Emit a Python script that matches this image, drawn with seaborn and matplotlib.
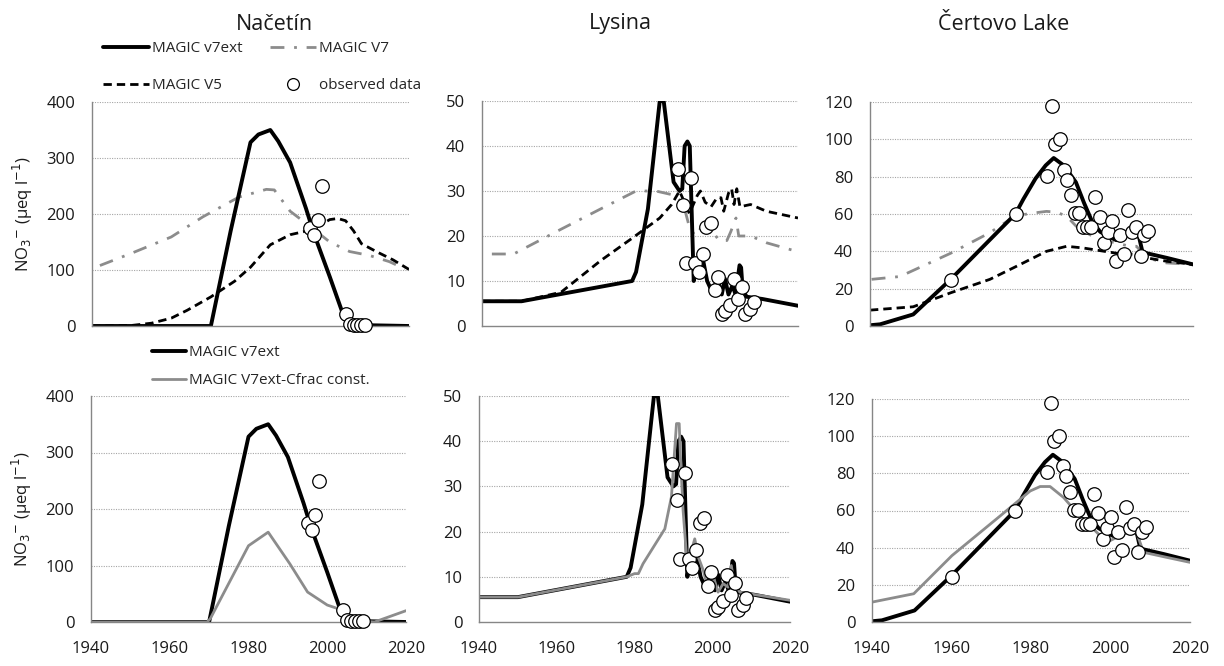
import matplotlib
matplotlib.use("Agg")
import matplotlib.pyplot as plt
from matplotlib.lines import Line2D
import seaborn as sns

# ---- Načetín ----
nac_yr_v7ext = [1940, 1970, 1975, 1980, 1982, 1985, 1987, 1990, 1994, 1996, 2000, 2003, 2005, 2020]
nac_v7ext = [0, 0, 170, 328, 342, 350, 330, 292, 210, 165, 88, 28, 2, 0]
nac_yr_v7 = [1942, 1950, 1960, 1968, 1977, 1984, 1986, 1990, 1995, 2000, 2005, 2010, 2015, 2019]
nac_v7 = [108, 130, 159, 195, 230, 244, 243, 205, 178, 150, 133, 126, 115, 102]
nac_yr_v5 = [1940, 1950, 1955, 1960, 1964, 1970, 1976, 1980, 1985, 1990, 1995, 1998, 2000, 2002,
             2004, 2006, 2008, 2012, 2016, 2020]
nac_v5 = [0, 1, 5, 14, 28, 52, 80, 105, 145, 163, 171, 182, 190, 192, 188, 170, 147, 132, 118, 101]
nac_yr_cfrac = [1940, 1969.5, 1970.3, 1980, 1985, 1990.5, 1995, 2000, 2003, 2006, 2012, 2020]
nac_cfrac = [0, 0, 6, 135, 159, 103, 53, 30, 23, 3, 0, 20]
nac_yr_obs = [1995, 1996, 1997, 1998, 2004, 2005, 2006, 2007, 2008, 2009]
nac_obs = [175, 162, 190, 250, 22, 4, 2, 1, 1, 1]

# ---- Lysina ----
lys_yr_v7ext = [1940, 1950, 1978, 1979, 1982, 1985, 1986, 1988.5, 1990, 1990.7, 1991.3, 1992, 1992.6,
                1993.2, 1993.6, 1994.3, 1996, 1997, 1998.3, 1999.6, 2000.7, 2001.5, 2002.4, 2003.4,
                2004.2, 2005.2, 2005.6, 2006, 2007, 2011, 2020]
lys_v7ext = [5.5, 5.5, 10, 12, 26, 50, 50, 32, 30, 30.5, 40, 41, 40, 22, 10, 14.5, 14.5, 10, 7.5,
             10.5, 7, 10.5, 7, 9, 7, 13.5, 13, 8, 6.5, 6, 4.5]
lys_yr_v7 = [1942.5, 1948, 1960, 1970, 1979, 1984, 1989, 1991, 1992.5, 1994, 1996, 1998, 2000, 2002,
             2003, 2004.3, 2005, 2008, 2012, 2020]
lys_v7 = [16, 16, 21.5, 26, 30, 30, 29, 27, 22, 20, 22.5, 21.5, 19, 19, 21, 24, 20, 20, 18.5, 16.5]
lys_yr_v5 = [1940, 1950, 1960, 1970, 1978, 1985, 1988, 1990, 1991.5, 1992.5, 1994.5, 1995.3, 1996.5,
             1998, 1999.5, 2000.5, 2001.2, 2002.4, 2003.2, 2003.8, 2004.5, 2005.3, 2008, 2012, 2020]
lys_v5 = [5.5, 5.5, 7.5, 14.5, 19.5, 24, 27, 30, 27, 25, 29, 30, 27.5, 26.5, 28.5, 28.5, 25.5, 29.5,
          30.5, 27, 30.5, 26.5, 27, 25.5, 24]
lys_yr_cfrac = [1940, 1950, 1978, 1980, 1981, 1982.2, 1987.8, 1989.5, 1990.8, 1991.5, 1991.8, 1992.5,
                1993.4, 1994.2, 1995.5, 1996.4, 1997.7, 1999, 2000.3, 2001.5, 2002.8, 2004.1, 2004.9,
                2005.8, 2007.1, 2020]
lys_cfrac = [5.5, 5.5, 10, 10.7, 10.7, 12.9, 20.6, 27.7, 43.9, 43.9, 37, 24.7, 14.4, 14.4, 18.4, 14.4,
             11.4, 7, 10, 6.6, 8.5, 7.7, 12.5, 7.7, 6.6, 4.8]
lys_yr_obs = [1989.6, 1990.9, 1991.7, 1992.9, 1994, 1994.9, 1995.9, 1996.8, 1998, 1998.9, 1999.8,
              2000.8, 2001.6, 2002.7, 2003.7, 2004.7, 2005.8, 2006.7, 2007.8, 2008.8]
lys_obs = [35, 27, 14, 33, 14, 12, 16, 22, 23, 8, 11, 2.6, 3.3, 4.6, 10.5, 6, 8.7, 2.6, 3.8, 5.3]

# ---- Čertovo Lake ----
cer_yr_v7ext = [1940, 1942.5, 1950.7, 1960, 1976, 1978, 1981, 1983.5, 1985.5, 1988, 1991, 1993, 1995,
                1997, 1999.5, 2001, 2003.5, 2005.8, 2006.6, 2007.5, 2013.5, 2020]
cer_v7ext = [0.4, 0.9, 6.2, 25, 60, 68, 79, 86, 90, 86, 77, 66, 56, 50.5, 47.5, 46, 48.5, 51, 48,
             39.5, 36.5, 33]
cer_yr_v7 = [1940.4, 1947.4, 1960, 1969.7, 1976, 1980.4, 1983.7, 1986.2, 1988.7, 1991.1, 1993.6,
             1996.9, 2001, 2004.3, 2006, 2008.5, 2013.4, 2020]
cer_v7 = [25, 26.5, 39, 50, 59, 60.5, 61.4, 61, 58.8, 53.4, 49.8, 46.3, 44.5, 42.7, 42.7, 36.5, 33.8, 33]
cer_yr_v5 = [1940, 1950.7, 1960, 1969.7, 1976.3, 1983.7, 1988.7, 1992.8, 2001, 2006, 2008.5, 2013.4, 2020]
cer_v5 = [8.5, 10.3, 17.8, 25, 32, 40, 42.7, 41.8, 39, 38.3, 36.5, 34.7, 33]
cer_yr_cfrac = [1940, 1950.5, 1960.1, 1972.2, 1979.8, 1982.3, 1984.8, 1988.2, 1991.5, 1994.9, 1997.4,
                1999.9, 2002.4, 2005.7, 2006.6, 2008.3, 2014.1, 2020]
cer_cfrac = [10.7, 15.2, 35.7, 57, 70.5, 72.9, 72.9, 67, 58.9, 51.8, 46.4, 43.8, 46.4, 50, 48, 37.5,
             34.8, 32.1]
cer_yr_obs = [1960, 1976.1, 1983.9, 1985, 1985.9, 1987, 1988, 1988.9, 1989.9, 1990.7, 1991.8, 1992.8,
              1993.8, 1994.8, 1995.8, 1996.9, 1998, 1999, 2000, 2000.9, 2001.9, 2002.8, 2003.9, 2004.9,
              2006, 2007, 2007.9, 2008.9]
cer_obs = [24.4, 60, 80.5, 118, 97.4, 100, 83.7, 78.3, 70, 60.5, 60.5, 53, 53, 53, 69, 58.5, 44.5,
           50.5, 56.5, 35, 48.5, 38.5, 62, 50.5, 53, 37.5, 48.5, 51]

sites = ["Načetín", "Lysina", "Čertovo Lake"]
y_max = [400, 50, 120]
y_step = [100, 10, 20]

sns.set_theme(style="white")
plt.rcParams["font.family"] = ["Open Sans", "DejaVu Sans"]

GRAY = "#8c8c8c"
AXC = "#868686"
V7_LS = (0, (5, 3.5, 1, 3.5))
V5_LS = (0, (3, 1.8))

fig = plt.figure(figsize=(12.24, 6.66), dpi=100)
W, H = 1224.0, 666.0

def rect(x0, x1, y0, y1):
    return [x0 / W, 1 - y1 / H, (x1 - x0) / W, (y1 - y0) / H]

top_rects = [rect(92, 409, 102, 326), rect(482, 798, 101, 326), rect(870, 1193, 102, 326)]
bot_rects = [rect(91, 406, 396, 622), rect(479, 790, 396, 622), rect(872, 1190, 399, 622)]

top_data = [
    (nac_yr_v7ext, nac_v7ext, nac_yr_v7, nac_v7, nac_yr_v5, nac_v5, nac_yr_obs, nac_obs),
    (lys_yr_v7ext, lys_v7ext, lys_yr_v7, lys_v7, lys_yr_v5, lys_v5, lys_yr_obs, lys_obs),
    (cer_yr_v7ext, cer_v7ext, cer_yr_v7, cer_v7, cer_yr_v5, cer_v5, cer_yr_obs, cer_obs),
]
bot_data = [
    (nac_yr_v7ext, nac_v7ext, nac_yr_cfrac, nac_cfrac, nac_yr_obs, nac_obs),
    (lys_yr_v7ext, lys_v7ext, lys_yr_cfrac, lys_cfrac, lys_yr_obs, lys_obs),
    (cer_yr_v7ext, cer_v7ext, cer_yr_cfrac, cer_cfrac, cer_yr_obs, cer_obs),
]


def style_axes(ax, i, show_x):
    ax.set_xlim(1940, 2020)
    ax.set_ylim(0, y_max[i])
    ax.set_xticks(range(1940, 2021, 20))
    ax.set_yticks(range(0, y_max[i] + 1, y_step[i]))
    if not show_x:
        ax.set_xticklabels([])
    for s in ["top", "right"]:
        ax.spines[s].set_visible(False)
    for s in ["left", "bottom"]:
        ax.spines[s].set_color(AXC)
        ax.spines[s].set_linewidth(1.0)
    ax.tick_params(axis="both", direction="out", length=5, width=1, color=AXC,
                   labelsize=12, labelcolor="#1a1a1a")
    ax.tick_params(axis="y", pad=7)
    ax.tick_params(axis="x", pad=9)
    for v in range(y_step[i], y_max[i] + 1, y_step[i]):
        ax.axhline(v, color="#a6a6a6", lw=0.8, ls=(0, (1, 1.2)), zorder=0)
    ax.set_xlabel("")
    ax.set_ylabel("")
    if i == 0:
        ax.set_ylabel("NO$_3$$^{-}$ (µeq l$^{-1}$)", fontsize=12, color="#1a1a1a")
        ax.yaxis.set_label_coords(-0.18, 0.5)


def obs_points(ax, yr, val):
    sns.scatterplot(x=yr, y=val, ax=ax, s=95, color="white", edgecolor="black",
                    linewidth=0.9, zorder=6, clip_on=False, legend=False)


for i in range(3):
    ax = fig.add_axes(top_rects[i])
    yv7e, v7e, yv7, v7, yv5, v5, yob, ob = top_data[i]
    sns.lineplot(x=yv7, y=v7, ax=ax, estimator=None, sort=False, color=GRAY, lw=2, linestyle=V7_LS)
    sns.lineplot(x=yv5, y=v5, ax=ax, estimator=None, sort=False, color="black", lw=2, linestyle=V5_LS)
    sns.lineplot(x=yv7e, y=v7e, ax=ax, estimator=None, sort=False, color="black", lw=2.8)
    obs_points(ax, yob, ob)
    style_axes(ax, i, False)

    ax = fig.add_axes(bot_rects[i])
    yv7e, v7e, ycf, cf, yob, ob = bot_data[i]
    sns.lineplot(x=yv7e, y=v7e, ax=ax, estimator=None, sort=False, color="black", lw=2.8)
    sns.lineplot(x=ycf, y=cf, ax=ax, estimator=None, sort=False, color=GRAY, lw=2)
    obs_points(ax, yob, ob)
    style_axes(ax, i, True)

# site titles
for name, xc in zip(sites, [274, 620, 1004]):
    fig.text(xc / W, 1 - 24 / H, name, ha="center", va="center", fontsize=15.5, color="#1a1a1a")

# legends
h_v7ext = Line2D([], [], color="black", lw=2.8)
h_v7 = Line2D([], [], color=GRAY, lw=2, linestyle=V7_LS)
h_v5 = Line2D([], [], color="black", lw=2, linestyle=V5_LS)
h_obs = Line2D([], [], color="black", lw=0, marker="o", markersize=8.5,
               markerfacecolor="white", markeredgewidth=0.9)
h_cf = Line2D([], [], color=GRAY, lw=2)

fig.legend([h_v7ext, h_v5, h_v7, h_obs],
           ["MAGIC v7ext", "MAGIC V5", "MAGIC V7", "observed data"],
           ncol=2, loc="upper left", bbox_to_anchor=(103 / W, 1 - 41 / H),
           frameon=False, fontsize=11, handlelength=3.0, handletextpad=0.2,
           columnspacing=1.8, labelspacing=1.45, borderpad=0, borderaxespad=0)
fig.legend([h_v7ext, h_cf], ["MAGIC v7ext", "MAGIC V7ext-Cfrac const."],
           ncol=1, loc="upper left", bbox_to_anchor=(152 / W, 1 - 345 / H),
           frameon=False, fontsize=11, handlelength=2.2, handletextpad=0.2,
           labelspacing=0.85, borderpad=0, borderaxespad=0)

fig.savefig("out.png", dpi=100)
